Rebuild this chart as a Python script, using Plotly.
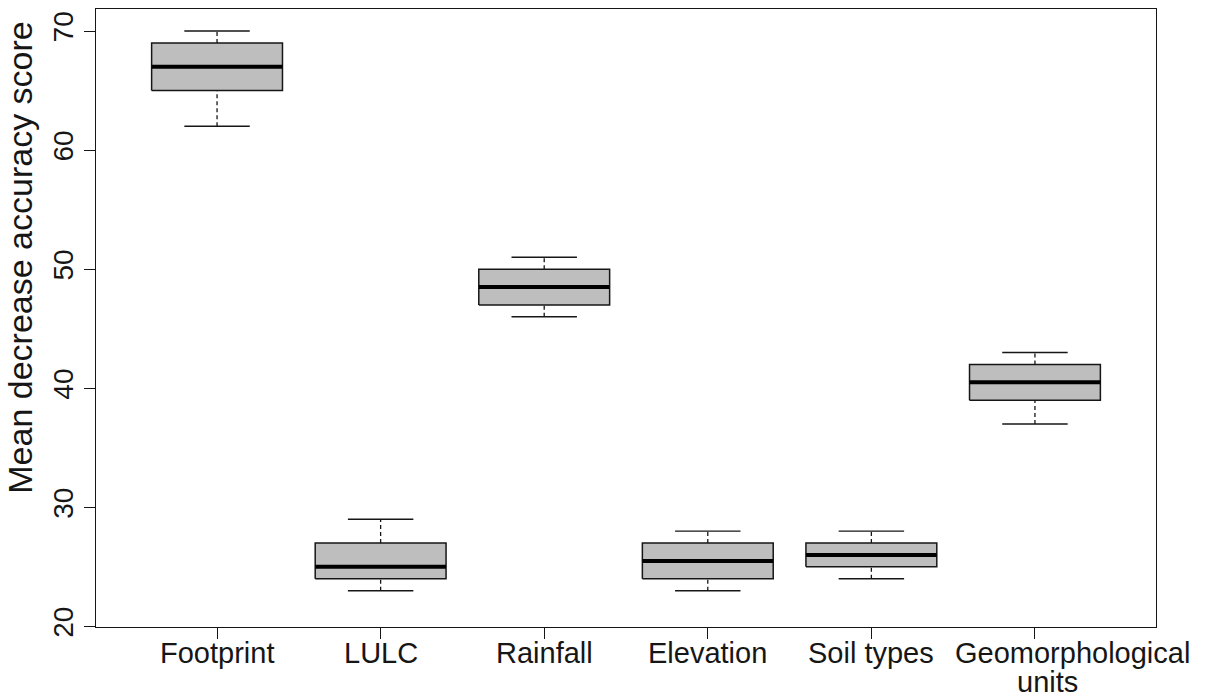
import plotly.graph_objects as go

# Variable importance (mean decrease accuracy) summarised per predictor
categories = ["Footprint", "LULC", "Rainfall", "Elevation", "Soil types", "Geomorphological\nunits"]
whisker_low = [62, 23, 46, 23, 24, 37]
q1 = [65, 24, 47, 24, 25, 39]
median = [67, 25, 48.5, 25.5, 26, 40.5]
q3 = [69, 27, 50, 27, 27, 42]
whisker_high = [70, 29, 51, 28, 28, 43]
y_ticks = [20, 30, 40, 50, 60, 70]
y_title = "Mean decrease accuracy score"

positions = list(range(1, len(categories) + 1))
BOX_HALF = 0.4
CAP_HALF = 0.2
INK = "#161616"
FILL = "#bebebe"
FONT = "Liberation Sans, Arial, sans-serif"

# horizontal nudge (px) per label line, so the long last label clears its neighbour
LINE_NUDGE = {5: [38, 13]}
LABEL_ROW_Y = [-0.0421, -0.0890]   # paper y of the first and second label lines

fig = go.Figure()

# dashed whiskers from the hinges to the extremes
wx, wy = [], []
for p, lo, a, b, hi in zip(positions, whisker_low, q1, q3, whisker_high):
    wx += [p, p, None, p, p, None]
    wy += [lo, a, None, b, hi, None]
fig.add_trace(go.Scatter(x=wx, y=wy, mode="lines", hoverinfo="skip",
                         line=dict(color=INK, width=1.3, dash="4px,3px")))

# whisker caps
cx, cy = [], []
for p, lo, hi in zip(positions, whisker_low, whisker_high):
    cx += [p - CAP_HALF, p + CAP_HALF, None, p - CAP_HALF, p + CAP_HALF, None]
    cy += [lo, lo, None, hi, hi, None]
fig.add_trace(go.Scatter(x=cx, y=cy, mode="lines", hoverinfo="skip",
                         line=dict(color=INK, width=1.4)))

# interquartile boxes
for p, a, b in zip(positions, q1, q3):
    fig.add_trace(go.Scatter(
        x=[p - BOX_HALF, p + BOX_HALF, p + BOX_HALF, p - BOX_HALF, p - BOX_HALF],
        y=[a, a, b, b, a], mode="lines", fill="toself", fillcolor=FILL,
        hoverinfo="skip", line=dict(color=INK, width=1.5)))

# medians
mx, my = [], []
for p, m in zip(positions, median):
    mx += [p - BOX_HALF, p + BOX_HALF, None]
    my += [m, m, None]
fig.add_trace(go.Scatter(x=mx, y=my, mode="lines", hoverinfo="skip",
                         line=dict(color="black", width=4)))

# category labels under the ticks, one annotation per text line
annotations = []
for i, (p, c) in enumerate(zip(positions, categories)):
    for k, line in enumerate(c.split("\n")):
        shift = LINE_NUDGE.get(i, [0, 0])[k]
        annotations.append(dict(
            x=p, xref="x", y=LABEL_ROW_Y[k], yref="paper", xshift=shift,
            text=line, showarrow=False, xanchor="center", yanchor="middle",
            font=dict(family=FONT, size=29, color=INK)))

annotations.append(dict(
    x=-0.0720, xref="paper", y=0.597, yref="paper", text=y_title,
    textangle=-90, showarrow=False, xanchor="center", yanchor="middle",
    font=dict(family=FONT, size=34, color=INK)))

axis_common = dict(showline=True, mirror=True, linecolor=INK, linewidth=1.4,
                   ticks="outside", ticklen=11, tickwidth=1.3, tickcolor=INK,
                   showgrid=False, zeroline=False, automargin=False,
                   tickfont=dict(family=FONT, size=28, color=INK))

fig.update_layout(
    width=1209, height=697,
    margin=dict(l=96, r=53, t=9, b=70),
    paper_bgcolor="white", plot_bgcolor="white",
    showlegend=False,
    xaxis=dict(range=[0.26, 6.74], tickmode="array", tickvals=positions,
               showticklabels=False, **axis_common),
    yaxis=dict(range=[19.95, 71.85], tickmode="array", tickvals=y_ticks,
               tickangle=-90, **axis_common),
    annotations=annotations,
)

fig.write_html("out.html")
